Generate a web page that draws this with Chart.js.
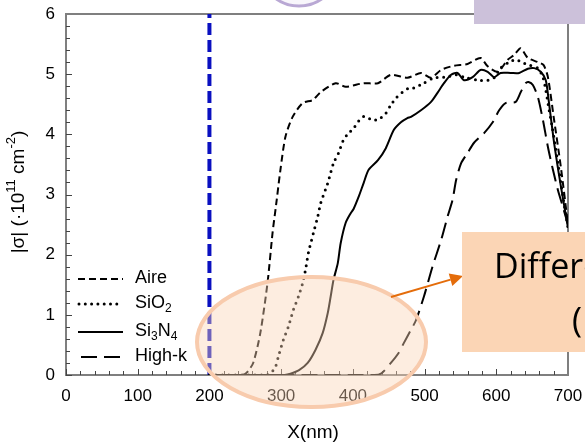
<!DOCTYPE html>
<html>
<head>
<meta charset="utf-8">
<script src="https://cdn.jsdelivr.net/npm/chart.js@4.4.1/dist/chart.umd.min.js"></script>
<style>
  html, body { margin: 0; padding: 0; background: #fff; }
  #wrap { width: 585px; height: 446px; position: relative; }
</style>
</head>
<body>
<div id="wrap"><canvas id="sigmaChart" width="585" height="446"></canvas></div>
<script>
// |sigma| (1e11 cm^-2) against X (nm) for each dielectric
const aireX = [200, 245, 252, 261, 271, 281, 288, 293, 299, 306, 316, 330, 344, 355, 376, 390, 415, 435, 453, 476, 495, 509, 523, 541, 560, 578, 588, 602, 616, 625, 634, 644, 658, 666, 672, 680, 690, 700];
const aireY = [0, 0, 0.04, 0.2, 0.7, 1.53, 2.36, 2.83, 3.41, 3.96, 4.29, 4.52, 4.57, 4.70, 4.85, 4.79, 4.85, 4.85, 4.99, 4.94, 5.02, 4.94, 5.07, 5.14, 5.17, 5.27, 5.13, 5.04, 5.24, 5.32, 5.43, 5.27, 5.20, 5.15, 4.95, 4.29, 3.46, 2.5];

const sio2X = [200, 280, 286, 292, 296, 303, 310, 317, 324, 330, 334, 338, 345, 351, 355, 365, 373, 380, 387, 394, 401, 408, 416, 427, 436, 446, 453, 460, 469, 478, 485, 499, 513, 530, 544, 558, 574, 588, 597, 606, 618, 627, 637, 646, 658, 665, 669, 673, 678, 686, 693, 700];
const sio2Y = [0, 0, 0.04, 0.13, 0.3, 0.58, 0.8, 1.08, 1.3, 1.53, 1.75, 2.03, 2.36, 2.63, 2.85, 3.19, 3.52, 3.69, 3.91, 4.02, 4.10, 4.22, 4.30, 4.24, 4.25, 4.35, 4.49, 4.6, 4.70, 4.77, 4.77, 4.85, 4.94, 4.95, 4.99, 4.94, 4.90, 4.90, 4.94, 5.10, 5.20, 5.24, 5.19, 5.15, 5.10, 4.95, 4.74, 4.45, 4.12, 3.52, 2.96, 2.45];

const si3n4X = [200, 305, 313, 325, 337, 348, 358, 365, 369, 373, 379, 383, 390, 397, 401, 408, 415, 422, 435, 446, 457, 467, 476, 481, 495, 509, 518, 527, 537, 546, 555, 567, 578, 588, 597, 606, 620, 632, 644, 653, 662, 669, 673, 680, 687, 694, 700];
const si3n4Y = [0, 0, 0.02, 0.08, 0.2, 0.42, 0.70, 1.03, 1.3, 1.58, 1.86, 2.19, 2.53, 2.69, 2.76, 2.96, 3.19, 3.41, 3.57, 3.77, 4.07, 4.2, 4.27, 4.29, 4.40, 4.54, 4.69, 4.85, 4.99, 5.02, 4.90, 4.95, 5.07, 5.04, 4.95, 5.02, 5.02, 5.02, 5.09, 5.10, 5.04, 4.90, 4.57, 3.91, 3.36, 2.86, 2.45];

const highkX = [200, 430, 440, 453, 464, 471, 481, 488, 499, 511, 523, 532, 539, 544, 551, 560, 569, 583, 595, 604, 613, 627, 634, 641, 645, 651, 658, 665, 672, 679, 686, 693, 700];
const highkY = [0, 0, 0.03, 0.2, 0.37, 0.53, 0.75, 0.91, 1.30, 1.8, 2.24, 2.63, 2.91, 3.24, 3.52, 3.69, 3.86, 4.02, 4.20, 4.40, 4.52, 4.54, 4.70, 4.85, 4.87, 4.82, 4.62, 4.24, 3.79, 3.41, 3.07, 2.79, 2.5];

// vertical marker at X = 200 nm
const markerX = [200, 200];
const markerY = [0, 6];

const xTickValues = [0, 100, 200, 300, 400, 500, 600, 700];
const yTickValues = [0, 1, 2, 3, 4, 5, 6];

const legendNames = ['Aire', 'SiO2', 'Si3N4', 'High-k'];

const FONT = "'Liberation Sans', Arial, sans-serif";

function pts(xs, ys) {
  return xs.map((x, i) => ({ x: x, y: ys[i] }));
}

function curve(label, xs, ys, dash, width, cap) {
  return {
    label: label,
    data: pts(xs, ys),
    borderColor: '#000',
    borderWidth: width,
    borderDash: dash,
    borderCapStyle: cap || 'butt',
    pointRadius: 0,
    tension: 0.25,
    fill: false
  };
}

// inward tick marks plus the top/right frame
const frameTicks = {
  id: 'frameTicks',
  beforeDatasetsDraw(chart) {
    const { ctx, chartArea: a, scales: { x, y } } = chart;
    ctx.save();
    ctx.strokeStyle = '#444';
    ctx.lineWidth = 1;
    ctx.beginPath();
    for (let i = 0; i <= 35; i++) {
      const v = i * 20;
      const px = Math.round(x.getPixelForValue(v)) + 0.5;
      const len = v % 100 === 0 ? 6 : 4;
      ctx.moveTo(px, a.bottom);
      ctx.lineTo(px, a.bottom - len);
    }
    for (let i = 0; i <= 30; i++) {
      const py = Math.round(y.getPixelForValue(i * 0.2)) + 0.5;
      const len = i % 5 === 0 ? 6 : 4;
      ctx.moveTo(a.left, py);
      ctx.lineTo(a.left + len, py);
    }
    ctx.stroke();
    ctx.strokeStyle = '#7f7f7f';
    ctx.lineWidth = 2;
    ctx.beginPath();
    ctx.moveTo(a.left, a.top);
    ctx.lineTo(a.right, a.top);
    ctx.lineTo(a.right, a.bottom);
    ctx.stroke();
    ctx.restore();
  }
};

// draws a run of [text, kind] pieces; kind: 0 normal, 1 superscript, -1 subscript
function richText(ctx, parts, x, y, size) {
  let cx = x;
  parts.forEach(([t, kind]) => {
    const s = kind === 0 ? size : Math.round(size * 0.68);
    ctx.font = s + 'px ' + FONT;
    const dy = kind === 1 ? -size * 0.38 : kind === -1 ? size * 0.3 : 0;
    ctx.fillText(t, cx, y + dy);
    cx += ctx.measureText(t).width;
  });
  return cx - x;
}

function richWidth(ctx, parts, size) {
  let w = 0;
  parts.forEach(([t, kind]) => {
    const s = kind === 0 ? size : Math.round(size * 0.68);
    ctx.font = s + 'px ' + FONT;
    w += ctx.measureText(t).width;
  });
  return w;
}

// axis titles and the legend block
const labelsAndLegend = {
  id: 'labelsAndLegend',
  afterDatasetsDraw(chart) {
    const { ctx, chartArea: a } = chart;
    ctx.save();
    ctx.fillStyle = '#000';
    ctx.textBaseline = 'middle';
    ctx.textAlign = 'left';

    // x title
    ctx.font = '19px ' + FONT;
    ctx.textAlign = 'center';
    ctx.fillText('X(nm)', (a.left + a.right) / 2 - 4, 433);
    ctx.textAlign = 'left';

    // y title, rotated
    const yParts = [['|σ| (·10', 0], ['11', 1], [' cm', 0], ['-2', 1], [')', 0]];
    const w = richWidth(ctx, yParts, 19);
    ctx.save();
    ctx.translate(19, 192);
    ctx.rotate(-Math.PI / 2);
    richText(ctx, yParts, -w / 2, 0, 19);
    ctx.restore();

    // legend
    const rows = [
      { y: 279, dash: [7, 4], width: 2, cap: 'butt', x0: 78, parts: [[legendNames[0], 0]] },
      { y: 304, dash: [0, 6.3], width: 3, cap: 'round', x0: 79, parts: [['SiO', 0], ['2', -1]] },
      { y: 332, dash: [], width: 2, cap: 'butt', x0: 78, parts: [['Si', 0], ['3', -1], ['N', 0], ['4', -1]] },
      { y: 357, dash: [16, 7], width: 2, cap: 'butt', x0: 81, parts: [[legendNames[3], 0]] }
    ];
    rows.forEach(r => {
      ctx.beginPath();
      ctx.setLineDash(r.dash);
      ctx.lineCap = r.cap;
      ctx.lineWidth = r.width;
      ctx.strokeStyle = '#000';
      ctx.moveTo(r.x0, r.y);
      ctx.lineTo(123, r.y);
      ctx.stroke();
      ctx.setLineDash([]);
      richText(ctx, r.parts, 135, r.y - 1, 18);
    });
    ctx.restore();
  }
};

// highlight ellipse, callout arrow and boxes laid over the plot
const overlays = {
  id: 'overlays',
  afterDraw(chart) {
    const ctx = chart.ctx;
    ctx.save();

    // lavender circle edge at the top
    ctx.beginPath();
    ctx.arc(299, -34, 40, 0, Math.PI * 2);
    ctx.fillStyle = '#f8f6fb';
    ctx.fill();
    ctx.lineWidth = 3;
    ctx.strokeStyle = '#b9a8d4';
    ctx.stroke();

    // lavender box in the corner
    ctx.fillStyle = '#ccc1da';
    ctx.fillRect(474, 0, 111, 24);

    // ellipse over the onset region
    ctx.beginPath();
    ctx.ellipse(311.5, 342, 114.5, 65, 0, 0, Math.PI * 2);
    ctx.fillStyle = 'rgba(251, 213, 181, 0.42)';
    ctx.fill();
    ctx.lineWidth = 4;
    ctx.strokeStyle = '#f8cbad';
    ctx.stroke();

    // arrow
    const x1 = 391, y1 = 297, x2 = 463, y2 = 276;
    const ang = Math.atan2(y2 - y1, x2 - x1);
    const hl = 13, hw = 6.5;
    const bx = x2 - hl * Math.cos(ang), by = y2 - hl * Math.sin(ang);
    ctx.strokeStyle = '#e46c0a';
    ctx.fillStyle = '#e46c0a';
    ctx.lineWidth = 2;
    ctx.beginPath();
    ctx.moveTo(x1, y1);
    ctx.lineTo(bx, by);
    ctx.stroke();
    ctx.beginPath();
    ctx.moveTo(x2, y2);
    ctx.lineTo(bx + hw * Math.sin(ang), by - hw * Math.cos(ang));
    ctx.lineTo(bx - hw * Math.sin(ang), by + hw * Math.cos(ang));
    ctx.closePath();
    ctx.fill();

    // callout box
    ctx.fillStyle = '#fbd5b5';
    ctx.fillRect(462, 232, 123, 120);
    ctx.fillStyle = '#000';
    ctx.textBaseline = 'alphabetic';
    ctx.textAlign = 'left';
    ctx.font = "34px 'Open Sans', Lato, sans-serif";
    ctx.fillText('Differences', 494, 278);
    ctx.fillText('(', 572, 332);
    ctx.restore();
  }
};

new Chart(document.getElementById('sigmaChart'), {
  type: 'line',
  data: {
    datasets: [
      curve(legendNames[0], aireX, aireY, [7, 4], 2),
      curve(legendNames[1], sio2X, sio2Y, [0, 6.5], 3, 'round'),
      curve(legendNames[2], si3n4X, si3n4Y, [], 2),
      curve(legendNames[3], highkX, highkY, [16, 7], 2),
      {
        label: 'marker',
        data: pts(markerX, markerY),
        borderColor: '#0a10c0',
        borderWidth: 4,
        borderDash: [12, 5],
        pointRadius: 0,
        tension: 0,
        clip: false
      }
    ]
  },
  options: {
    responsive: false,
    animation: false,
    events: [],
    layout: { padding: { top: 14, right: 17, left: 0, bottom: 0 } },
    plugins: {
      legend: { display: false },
      tooltip: { enabled: false }
    },
    scales: {
      x: {
        type: 'linear',
        min: xTickValues[0],
        max: xTickValues[xTickValues.length - 1],
        afterBuildTicks: s => { s.ticks = xTickValues.map(v => ({ value: v })); },
        afterFit: s => { s.height = 71; s.paddingLeft = 0; s.paddingRight = 0; },
        grid: { display: false, drawTicks: false },
        border: { display: true, color: '#7f7f7f', width: 2 },
        ticks: { color: '#000', font: { family: FONT, size: 17 }, padding: 11, maxRotation: 0 }
      },
      y: {
        type: 'linear',
        min: yTickValues[0],
        max: yTickValues[yTickValues.length - 1],
        afterBuildTicks: s => { s.ticks = yTickValues.map(v => ({ value: v })); },
        afterFit: s => { s.width = 66; s.paddingTop = 0; s.paddingBottom = 0; },
        grid: { display: false, drawTicks: false },
        border: { display: true, color: '#7f7f7f', width: 2 },
        ticks: { color: '#000', font: { family: FONT, size: 17 }, padding: 11 }
      }
    }
  },
  plugins: [frameTicks, labelsAndLegend, overlays]
});
</script>
</body>
</html>
